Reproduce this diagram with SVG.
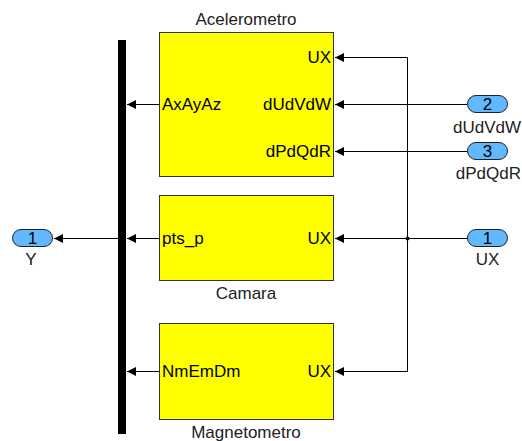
<svg xmlns="http://www.w3.org/2000/svg" width="522" height="441" viewBox="0 0 522 441">
<defs>
<marker id="ah" viewBox="0 0 10 10" refX="10" refY="5" markerWidth="9" markerHeight="9" markerUnits="userSpaceOnUse" orient="auto">
<path d="M0,0 L10,5 L0,10 z" fill="#000"/>
</marker>
<style>
.blk{fill:#ffff00;stroke:#333;stroke-width:1}
.port{fill:#62b8ff;stroke:#222;stroke-width:1}
text{font-family:"Liberation Sans",Arial,sans-serif;font-size:17px;fill:#000}
.lbl{fill:#222}
.w{fill:none;stroke:#000;stroke-width:1;marker-end:url(#ah)}
.n{fill:none;stroke:#000;stroke-width:1}
</style>
</defs>
<rect width="522" height="441" fill="#fff"/>
<g id="bus">
<rect x="118" y="40" width="8" height="394" fill="#000"/>
</g>
<g id="acelerometro">
<text x="246" y="25" text-anchor="middle" class="lbl">Acelerometro</text>
<rect class="blk" x="159.5" y="32.5" width="174" height="144"/>
<text x="331" y="63" text-anchor="end">UX</text>
<text x="331" y="110" text-anchor="end">dUdVdW</text>
<text x="331" y="157" text-anchor="end">dPdQdR</text>
<text x="162" y="110">AxAyAz</text>
</g>
<g id="camara">
<rect class="blk" x="159.5" y="195.5" width="174" height="85"/>
<text x="162" y="244">pts_p</text>
<text x="331" y="244" text-anchor="end">UX</text>
<text x="246" y="299" text-anchor="middle" class="lbl">Camara</text>
</g>
<g id="magnetometro">
<rect class="blk" x="159.5" y="323.5" width="174" height="96"/>
<text x="162" y="377">NmEmDm</text>
<text x="331" y="377" text-anchor="end">UX</text>
<text x="246" y="438" text-anchor="middle" class="lbl">Magnetometro</text>
</g>
<g id="in_dUdVdW">
<rect class="port" x="467.5" y="95.5" width="40" height="17" rx="8.5"/>
<text x="487.5" y="110" text-anchor="middle">2</text>
<text x="521" y="133" text-anchor="end" class="lbl">dUdVdW</text>
</g>
<g id="in_dPdQdR">
<rect class="port" x="467.5" y="142.5" width="40" height="17" rx="8.5"/>
<text x="487.5" y="157" text-anchor="middle">3</text>
<text x="521" y="179" text-anchor="end" class="lbl">dPdQdR</text>
</g>
<g id="in_UX">
<rect class="port" x="467.5" y="229.5" width="40" height="17" rx="8.5"/>
<text x="487.5" y="244" text-anchor="middle">1</text>
<text x="487.5" y="265" text-anchor="middle" class="lbl">UX</text>
</g>
<g id="out_Y">
<rect class="port" x="12.5" y="229.5" width="40" height="17" rx="8.5"/>
<text x="32.5" y="244" text-anchor="middle">1</text>
<text x="31" y="265" text-anchor="middle" class="lbl">Y</text>
</g>
<g id="connectors">
<path class="w" d="M467,104.5 H335"/>
<path class="w" d="M467,151.5 H335"/>
<path class="w" d="M467,238.5 H335"/>
<path class="n" d="M407.5,238.5 V57.5"/>
<path class="w" d="M407.5,57.5 H335"/>
<path class="n" d="M407.5,238.5 V371.5"/>
<path class="w" d="M407.5,371.5 H335"/>
<circle cx="407.5" cy="238.5" r="2" fill="#000"/>
<path class="w" d="M159,104.5 H127"/>
<path class="w" d="M159,238.5 H127"/>
<path class="w" d="M159,371.5 H127"/>
<path class="w" d="M118,238.5 H54"/>
</g>
</svg>
